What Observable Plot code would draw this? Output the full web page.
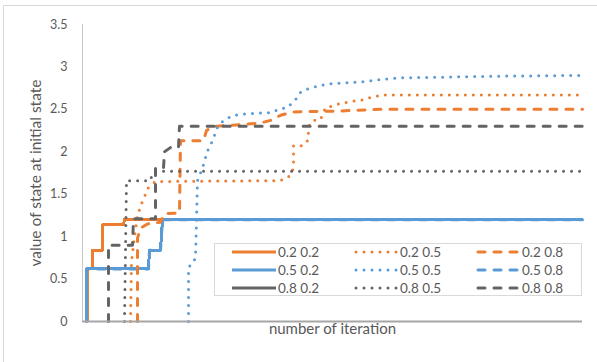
<!DOCTYPE html>
<html>
<head>
<meta charset="utf-8">
<script src="https://cdn.jsdelivr.net/npm/d3@7"></script>
<script src="https://cdn.jsdelivr.net/npm/@observablehq/plot@0.6"></script>
<style>
  html, body { margin: 0; padding: 0; background: #fff; }
  #chart { width: 597px; height: 362px; overflow: hidden; }
</style>
</head>
<body>
<div id="chart"></div>
<script>
// ---- data ----
const seriesNames = ["0.2 0.2", "0.2 0.5", "0.2 0.8", "0.5 0.2", "0.5 0.5", "0.5 0.8", "0.8 0.2", "0.8 0.5", "0.8 0.8"];
const seriesColors = ["#ED7D31", "#ED7D31", "#ED7D31", "#5B9BD5", "#5B9BD5", "#5B9BD5", "#646464", "#646464", "#646464"];
const seriesStyles = ["solid", "dot", "dash", "solid", "dot", "dash", "solid", "dot", "dash"];
const yTicks = [0, 0.5, 1, 1.5, 2, 2.5, 3, 3.5];
const yTickLabels = ["0", "0.5", "1", "1.5", "2", "2.5", "3", "3.5"];

// iteration / value pairs for each series
const x_02_02 = [1, 1, 2, 2, 4, 4, 8.2, 8.4, 100];
const y_02_02 = [0, 0.62, 0.62, 0.84, 0.84, 1.14, 1.14, 1.2, 1.2];

const x_02_05 = [9.6, 9.8, 10.4, 11, 12, 13.2, 14.6, 39.6, 41.6, 42.2, 42.2, 44, 45, 45.4, 46.2, 47.6, 48.6, 50, 51.6, 54.6, 56, 57.6, 60, 100];
const y_02_05 = [0, 0.7, 1.0, 1.25, 1.42, 1.58, 1.65, 1.66, 1.72, 1.81, 2.07, 2.07, 2.13, 2.33, 2.37, 2.38, 2.52, 2.54, 2.57, 2.6, 2.61, 2.64, 2.67, 2.67];

const x_02_08 = [11, 11, 11.6, 13, 15.6, 16.4, 19.4, 19.6, 24.2, 24.8, 26.2, 31.6, 35.6, 37.6, 39.6, 42.2, 51, 59.6, 100];
const y_02_08 = [0, 0.98, 1.1, 1.15, 1.17, 1.27, 1.28, 2.13, 2.13, 2.25, 2.3, 2.32, 2.34, 2.37, 2.43, 2.47, 2.48, 2.5, 2.5];

const x_05_02 = [0.8, 0.8, 13.2, 13.4, 15.6, 16, 100];
const y_05_02 = [0, 0.62, 0.62, 0.84, 0.84, 1.2, 1.2];

const x_05_05 = [21.2, 21.2, 22, 22.6, 22.8, 23, 24, 25, 26, 27, 28.2, 30.2, 33, 37.6, 39.6, 41, 42, 43, 43.6, 45, 46.2, 47.6, 49.2, 55, 58.2, 59.6, 61.2, 63, 81.6, 100];
const y_05_05 = [0, 0.64, 0.68, 0.75, 1.2, 1.66, 1.81, 2.01, 2.13, 2.29, 2.37, 2.43, 2.45, 2.46, 2.51, 2.52, 2.58, 2.64, 2.7, 2.74, 2.76, 2.78, 2.8, 2.82, 2.84, 2.85, 2.86, 2.87, 2.89, 2.9];

// not visible in the picture: lies under the 0.5 0.2 line
const x_05_08 = [0.8, 0.8, 13.2, 13.4, 15.6, 16, 100];
const y_05_08 = [0, 0.62, 0.62, 0.84, 0.84, 1.2, 1.2];

// not visible in the picture: lies under the 0.5 0.2 line
const x_08_02 = [0.8, 0.8, 13.2, 13.4, 15.6, 16, 100];
const y_08_02 = [0, 0.62, 0.62, 0.84, 0.84, 1.2, 1.2];

const x_08_05 = [8.4, 8.8, 13.6, 14, 15.6, 100];
const y_08_05 = [0, 1.66, 1.66, 1.75, 1.77, 1.77];

const x_08_08 = [5.2, 5.2, 10, 10.2, 14.6, 14.6, 16.2, 16.4, 17.6, 19.2, 19.4, 100];
const y_08_08 = [0, 0.9, 0.9, 1.21, 1.21, 1.81, 1.81, 2.0, 2.05, 2.05, 2.3, 2.3];

const seriesX = [x_02_02, x_02_05, x_02_08, x_05_02, x_05_05, x_05_08, x_08_02, x_08_05, x_08_08];
const seriesY = [y_02_02, y_02_05, y_02_08, y_05_02, y_05_05, y_05_08, y_08_02, y_08_05, y_08_08];

// drawing order (hidden series first so the visible ones lie on top)
const drawOrder = [5, 6, 0, 3, 1, 2, 4, 7, 8];

const FONT = "Lato, 'Open Sans', sans-serif";
const TEXT = "#595959";

function styleOf(s) {
  if (s === "dot") return {strokeWidth: 3, strokeDasharray: "0 8", strokeLinecap: "round", shapeRendering: null};
  if (s === "dash") return {strokeWidth: 3, strokeDasharray: "7 9", strokeLinecap: "round", shapeRendering: null};
  return {strokeWidth: 3, strokeDasharray: null, strokeLinecap: "butt", shapeRendering: "crispEdges"};
}

const lineMarks = drawOrder.map(i => {
  const data = seriesX[i].map((x, k) => ({x, y: seriesY[i][k]}));
  const st = styleOf(seriesStyles[i]);
  return Plot.line(data, {
    x: "x", y: "y",
    stroke: seriesColors[i],
    strokeWidth: st.strokeWidth,
    strokeDasharray: st.strokeDasharray,
    strokeLinecap: st.strokeLinecap,
    strokeLinejoin: "round",
    shapeRendering: st.shapeRendering
  });
});

const plot = Plot.plot({
  width: 597,
  height: 362,
  marginLeft: 82,
  marginRight: 15,
  marginTop: 24,
  marginBottom: 41,
  style: {fontFamily: FONT, fontSize: "12.5px", color: TEXT, background: "#fff"},
  x: {domain: [0, 100], axis: null},
  y: {domain: [0, 3.5], axis: null},
  marks: [
    Plot.ruleX([0], {stroke: "#c8c8c8", strokeWidth: 1}),
    Plot.axisY({ticks: yTicks, tickFormat: d => yTickLabels[yTicks.indexOf(d)], tickSize: 0, tickPadding: 15, fill: TEXT, fontSize: 12.5, label: null}),
    Plot.text(["value of state at initial state"], {frameAnchor: "left", textAnchor: "middle", rotate: -90, dx: -46, fill: TEXT, fontSize: 15.5}),
    Plot.text(["number of iteration"], {frameAnchor: "bottom", textAnchor: "middle", dy: 12, fill: TEXT, fontSize: 15}),
    ...lineMarks,
    Plot.ruleY([0], {stroke: "#a6a6a6", strokeWidth: 2})
  ]
});

document.getElementById("chart").appendChild(plot);

// chart-area border (top and left edges visible) and legend
const svg = d3.select(plot);
svg.append("line").attr("x1", 3.5).attr("y1", 5.5).attr("x2", 597).attr("y2", 5.5).attr("stroke", "#d9d9d9");
svg.append("line").attr("x1", 3.5).attr("y1", 5.5).attr("x2", 3.5).attr("y2", 362).attr("stroke", "#d9d9d9");

const lg = svg.append("g").attr("text-anchor", "start");
lg.append("rect").attr("x", 214.5).attr("y", 243.5).attr("width", 367).attr("height", 52)
  .attr("fill", "#fff").attr("stroke", "#d9d9d9");
const colX = [232, 354, 476];
const rowY = [252, 270, 288];
seriesNames.forEach((name, i) => {
  const r = Math.floor(i / 3), c = i % 3;
  const st = styleOf(seriesStyles[i]);
  lg.append("line")
    .attr("x1", colX[c] + (seriesStyles[i] === "solid" ? 0 : 2)).attr("x2", colX[c] + 44)
    .attr("y1", rowY[r]).attr("y2", rowY[r])
    .attr("stroke", seriesColors[i])
    .attr("stroke-width", st.strokeWidth)
    .attr("stroke-dasharray", st.strokeDasharray)
    .attr("stroke-linecap", st.strokeLinecap);
  lg.append("text")
    .attr("x", colX[c] + 46).attr("y", rowY[r])
    .attr("dy", "0.35em")
    .attr("text-anchor", "start")
    .attr("fill", TEXT)
    .attr("font-family", FONT)
    .attr("font-size", 13.5)
    .text(name);
});
</script>
</body>
</html>
